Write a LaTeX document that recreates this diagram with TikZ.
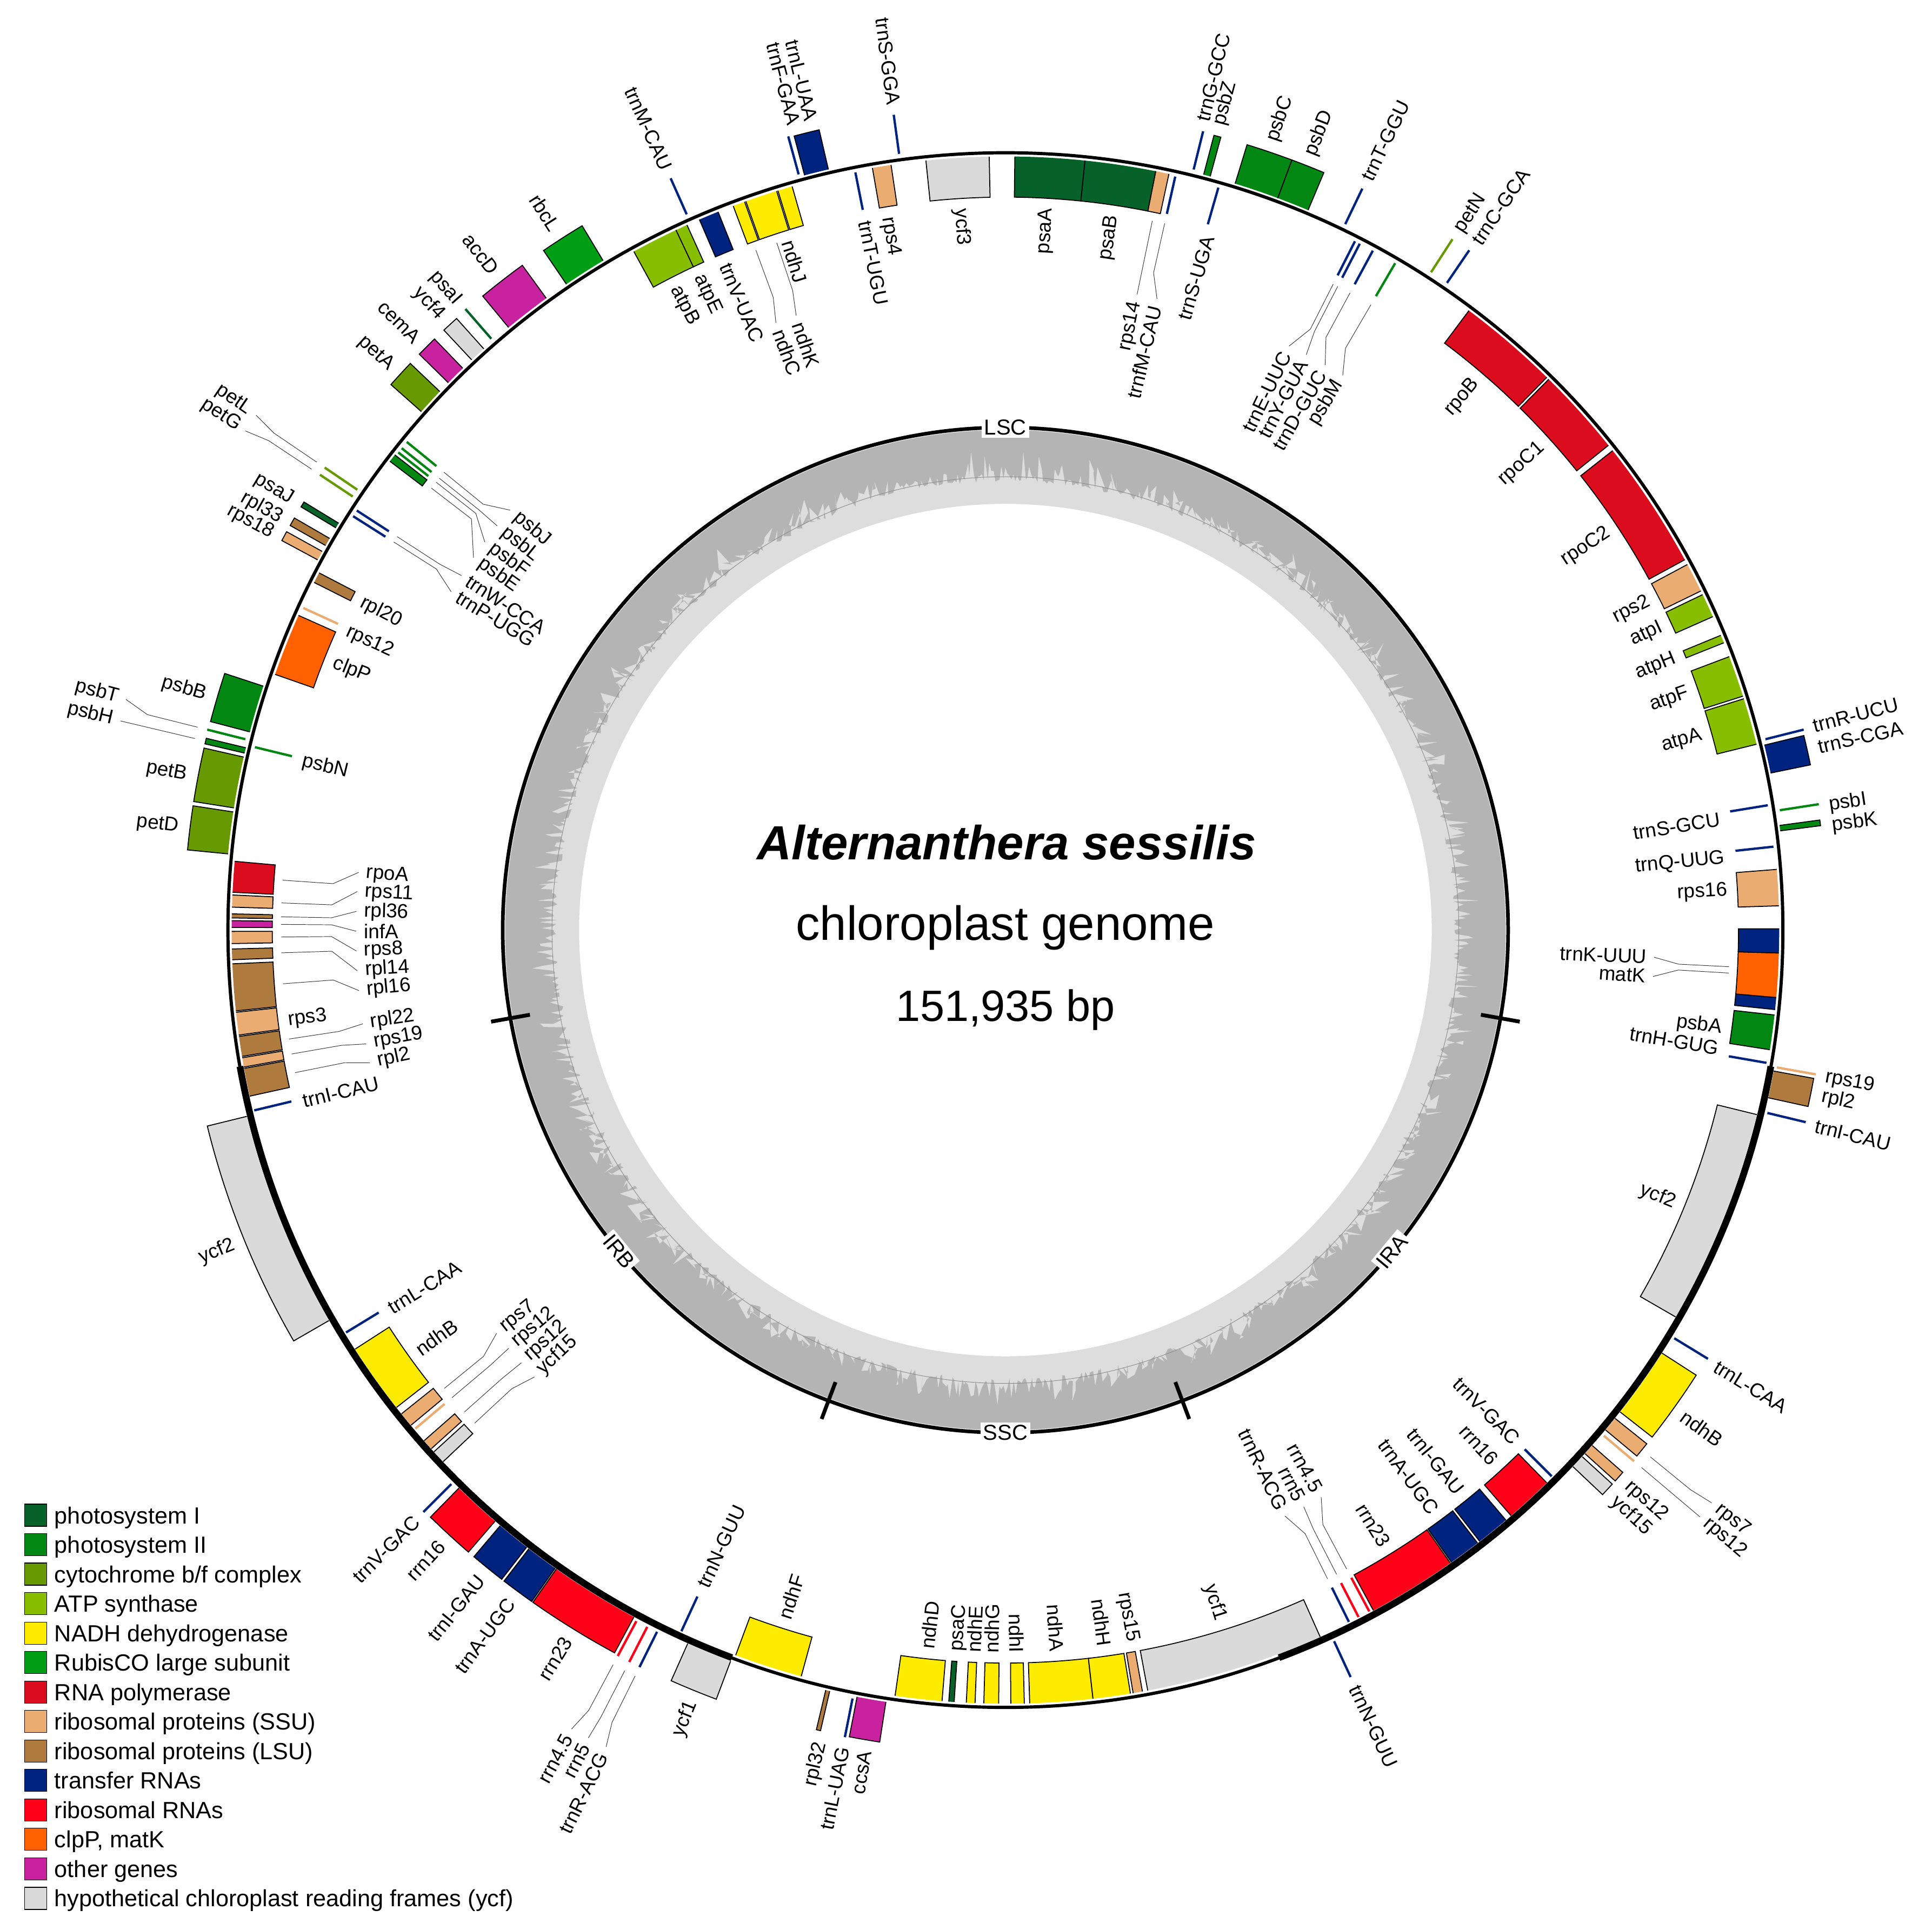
\documentclass[tikz,border=0pt]{standalone}
\usepackage{fontspec}
\setmainfont{Liberation Sans}
\usetikzlibrary{calc}

% gene class colours
\definecolor{psI}{RGB}{6,98,41}
\definecolor{psII}{RGB}{2,136,18}
\definecolor{cyt}{RGB}{103,153,0}
\definecolor{atp}{RGB}{135,190,0}
\definecolor{ndh}{RGB}{254,236,0}
\definecolor{rbc}{RGB}{0,158,20}
\definecolor{rpo}{RGB}{218,12,30}
\definecolor{rps}{RGB}{235,172,114}
\definecolor{rpl}{RGB}{174,122,62}
\definecolor{trn}{RGB}{0,35,128}
\definecolor{rrn}{RGB}{255,0,25}
\definecolor{clp}{RGB}{255,97,0}
\definecolor{oth}{RGB}{200,34,160}
\definecolor{ycf}{RGB}{218,218,218}
\definecolor{gcdark}{RGB}{180,180,180}
\definecolor{gclight}{RGB}{221,221,221}

% gene boxes outside / inside the circle (start angle, end angle, colour)
\newcommand{\boxo}[3]{%
  \fill[#3] (#1:634) arc[start angle=#1, end angle=#2, radius=634]
    -- (#2:667) arc[start angle=#2, end angle=#1, radius=667] -- cycle;
  \draw[gene edge] (#1:634) -- (#1:667) arc[start angle=#1, end angle=#2, radius=667] -- (#2:634);}
\newcommand{\boxi}[3]{%
  \fill[#3] (#1:628) arc[start angle=#1, end angle=#2, radius=628]
    -- (#2:595) arc[start angle=#2, end angle=#1, radius=595] -- cycle;
  \draw[gene edge] (#1:628) -- (#1:595) arc[start angle=#1, end angle=#2, radius=595] -- (#2:628);}
% short genes drawn as a single stroke
\newcommand{\lino}[2]{\draw[trna, #2] (#1:636) -- (#1:668);}
\newcommand{\lini}[2]{\draw[trna, #2] (#1:596) -- (#1:627);}
% radial gene label (angle, radius, text)
\newcommand{\glab}[3]{%
  \pgfmathtruncatemacro{\glR}{cos(#1)>=0}%
  \pgfmathtruncatemacro{\glO}{#2>631}%
  \ifnum\glR=1 \def\glrot{#1}\else\def\glrot{#1+180}\fi
  \ifnum\glR=\glO \def\glanc{west}\else\def\glanc{east}\fi
  \node[gene label, rotate=\glrot, anchor=\glanc] at (#1:#2) {#3};}
% labels with leader lines (gene angle, label angle, text)
\newcommand{\leadi}[3]{\draw[lead] (#1:588) -- (#1:547) -- (#2:527); \glab{#2}{521}{#3}}
\newcommand{\leado}[3]{\draw[lead] (#1:676) -- (#1:718) -- (#2:738); \glab{#2}{744}{#3}}
% legend row (y, colour, text)
\newcommand{\legrow}[3]{%
  \filldraw[fill=#2, legend box] (-796,#1-9) rectangle (-778,#1+9);
  \node[legend text, anchor=base west] at (-772,#1-6.8) {#3};}

\begin{document}
\begin{tikzpicture}[
    x=0.025cm, y=0.025cm,
    gene edge/.style = {draw=black, line width=0.55pt},
    trna/.style = {line width=1.35pt},
    gene label/.style = {font=\fontsize{11.5}{13}\selectfont, inner sep=0pt},
    lead/.style = {draw=black!80, line width=0.3pt},
    ring/.style = {draw=black, line width=1.85pt},
    ir arc/.style = {draw=black, line width=3.9pt},
    ring tick/.style = {draw=black, line width=2.2pt},
    ring label/.style = {fill=white, inner sep=1.5pt, font=\fontsize{12.5}{14}\selectfont},
    legend box/.style = {draw=black, line width=0.4pt},
    legend text/.style = {font=\fontsize{13.5}{15}\selectfont, inner sep=0pt}
]
    \useasboundingbox (-816,-811.3) rectangle (752,755);

    % GC content ring
    \fill[gclight, even odd rule] (0,0) circle[radius=406] (0,0) circle[radius=346];
    \pgfmathsetseed{11}
    \fill[gcdark, even odd rule] (0,0) circle[radius=406]
        plot[variable=\t, domain=0:359.75, samples=1440] (\t:{364+28*rnd*rnd}) -- cycle;
    \draw[black!45, line width=0.3pt] (0,0) circle[radius=368];
    \draw[line width=2.1pt] (0,0) circle[radius=408];
    \foreach \a in {-10.1,190.1,249.4,290.6}
        \draw[ring tick] (\a:392) -- (\a:424);
    \node[ring label] at (90:408) {LSC};
    \node[ring label, rotate=309.75] at (219.75:408) {IRB};
    \node[ring label] at (270:408) {SSC};
    \node[ring label, rotate=50.25] at (320.25:408) {IRA};

    % Genome circle and inverted repeats
    \draw[ring] (0,0) circle[radius=631];
    \draw[ir arc] (190.1:631) arc[start angle=190.1, end angle=249.4, radius=631];
    \draw[ir arc] (290.6:631) arc[start angle=290.6, end angle=349.9, radius=631];

    % LSC
    \lini{-9.9}{trn} \glab{-9.4}{587}{trnH-GUG}
    \boxi{-8.9}{-6.3}{psII} \glab{-7.8}{587}{psbA}
    \boxi{-5.9}{-5.0}{trn} \boxi{-5.0}{-1.7}{clp} \boxi{-1.7}{0.1}{trn}
    \leadi{-2.9}{-2.4}{trnK-UUU} \leadi{-3.4}{-4.1}{matK}
    \boxi{1.8}{4.5}{rps} \glab{3.1}{587}{rps16}
    \lini{6.2}{trn} \glab{5.7}{587}{trnQ-UUG}
    \boxo{7.3}{7.7}{psII} \glab{7.2}{676}{psbK}
    \lino{8.8}{psII} \glab{8.6}{676}{psbI}
    \lini{9.3}{trn} \glab{8.8}{587}{trnS-GCU}
    \boxo{11.6}{13.7}{trn} \glab{12.7}{676}{trnS-CGA}
    \lino{14.1}{trn} \glab{14.2}{676}{trnR-UCU}
    \boxi{13.9}{17.4}{atp} \glab{15.65}{587}{atpA}
    \boxi{17.6}{20.7}{atp} \glab{19.15}{587}{atpF}
    \boxi{21.8}{22.4}{atp} \glab{22.1}{587}{atpH}
    \boxi{23.9}{25.7}{atp} \glab{24.8}{587}{atpI}
    \boxi{26.0}{28.2}{rps} \glab{27.1}{587}{rps2}
    \boxi{28.6}{38.3}{rpo} \glab{33.45}{587}{rpoC2}
    \boxi{38.8}{45.4}{rpo} \glab{42.1}{587}{rpoC1}
    \boxi{45.6}{53.2}{rpo} \glab{49.4}{587}{rpoB}
    \lino{55.7}{trn} \glab{55.6}{676}{trnC-GCA}
    \lino{57.1}{cyt} \glab{57.0}{676}{petN}
    \lini{59.7}{psII} \leadi{59.7}{58.7}{psbM}
    \lini{61.6}{trn} \leadi{61.6}{60.5}{trnD-GUC}
    \lini{62.7}{trn} \leadi{62.7}{62.4}{trnY-GUA}
    \lini{63.1}{trn} \leadi{63.1}{64.1}{trnE-UUC}
    \lino{64.3}{trn} \glab{64.3}{676}{trnT-GGU}
    \boxo{67.2}{69.6}{psII} \glab{68.5}{676}{psbD}
    \boxo{69.6}{72.9}{psII} \glab{71.3}{676}{psbC}
    \lini{74.0}{trn} \glab{73.7}{587}{trnS-UGA}
    \boxo{74.8}{75.3}{psII} \glab{75.1}{676}{psbZ}
    \lino{76.1}{trn} \glab{76.3}{676}{trnG-GCC}
    \lini{77.3}{trn} \leadi{77.3}{76.5}{trnfM-CAU}
    \boxi{77.8}{78.8}{rps} \leadi{78.3}{78.3}{rps14}
    \boxi{78.8}{84.1}{psI} \glab{81.45}{587}{psaB}
    \boxi{84.1}{89.3}{psI} \glab{86.7}{587}{psaA}
    \boxi{91.2}{95.9}{ycf} \glab{93.55}{587}{ycf3}
    \lino{97.8}{trn} \glab{97.7}{676}{trnS-GGA}
    \boxi{98.5}{99.9}{rps} \glab{99.4}{587}{rps4}
    \lini{101.2}{trn} \glab{101.2}{587}{trnT-UGU}
    \boxo{103.1}{104.9}{trn} \glab{103.5}{676}{trnL-UAA}
    \lino{105.3}{trn} \glab{104.7}{676}{trnF-GAA}
    \boxi{106.0}{107.1}{ndh} \glab{107.5}{587}{ndhJ}
    \boxi{107.2}{109.6}{ndh} \leadi{108.4}{108.8}{ndhK}
    \boxi{109.7}{110.6}{ndh} \leadi{110.15}{110.7}{ndhC}
    \boxi{111.8}{113.3}{trn} \glab{112.8}{587}{trnV-UAC}
    \lino{114.0}{trn} \glab{114.0}{676}{trnM-CAU}
    \boxi{114.3}{115.2}{atp} \glab{115.1}{587}{atpE}
    \boxi{115.2}{118.7}{atp} \glab{117.2}{587}{atpB}
    \boxo{121.0}{124.2}{rbc} \glab{122.7}{676}{rbcL}
    \boxo{126.0}{129.5}{oth} \glab{127.8}{676}{accD}
    \lino{131.0}{psI} \glab{131.1}{676}{psaI}
    \boxo{131.9}{133.1}{ycf} \glab{132.6}{676}{ycf4}
    \boxo{134.0}{135.5}{oth} \glab{134.9}{676}{cemA}
    \boxo{136.4}{138.4}{cyt} \glab{137.5}{676}{petA}
    \lini{140.8}{psII} \leadi{140.8}{139.7}{psbJ}
    \lini{141.4}{psII} \leadi{141.4}{141.5}{psbL}
    \lini{141.8}{psII} \leadi{141.8}{143.3}{psbF}
    \boxi{142.1}{142.7}{psII} \leadi{142.4}{145.0}{psbE}
    \lino{145.8}{cyt} \leado{145.8}{145.5}{petL}
    \lino{146.4}{cyt} \leado{146.4}{146.7}{petG}
    \lini{147.1}{trn} \leadi{147.1}{146.9}{trnW-CCA}
    \lini{147.6}{trn} \leadi{147.6}{148.6}{trnP-UGG}
    \boxo{148.6}{149.0}{psI} \glab{148.9}{676}{psaJ}
    \boxo{149.9}{150.5}{rpl} \glab{150.4}{676}{rpl33}
    \boxo{151.0}{151.7}{rps} \glab{151.6}{676}{rps18}
    \boxi{152.5}{153.3}{rpl} \glab{153.0}{587}{rpl20}
    \lini{155.35}{rps} \glab{155.6}{587}{rps12}
    \boxi{156.0}{160.7}{clp} \glab{158.3}{587}{clpP}
    \boxo{161.8}{165.3}{psII} \glab{163.6}{676}{psbB}
    \lino{165.9}{psII} \leado{165.9}{165.3}{psbT}
    \boxo{166.5}{166.9}{psII} \leado{166.7}{166.7}{psbH}
    \lini{166.3}{psII} \glab{166.5}{587}{psbN}
    \boxo{167.2}{171.0}{cyt} \glab{169.3}{676}{petB}
    \boxo{171.3}{174.4}{cyt} \glab{172.9}{676}{petD}
    \boxi{174.9}{177.2}{rpo} \leadi{176.05}{174.9}{rpoA}
    \boxi{177.4}{178.3}{rps} \leadi{177.85}{176.6}{rps11}
    \boxi{178.8}{179.1}{rpl} \leadi{178.95}{178.35}{rpl36}
    \boxi{179.3}{179.8}{oth} \leadi{179.55}{180.1}{infA}
    \boxi{180.1}{181.0}{rps} \leadi{180.55}{181.85}{rps8}
    \boxi{181.4}{182.2}{rpl} \leadi{181.8}{183.6}{rpl14}
    \boxi{182.5}{186.0}{rpl} \leadi{184.25}{185.35}{rpl16}
    \boxi{186.1}{187.8}{rps} \glab{187.2}{587}{rps3}
    \boxi{187.9}{189.4}{rpl} \leadi{188.65}{188.3}{rpl22}
    \boxi{189.5}{190.2}{rps} \leadi{189.85}{190.1}{rps19}
    \boxi{190.3}{192.4}{rpl} \leadi{191.35}{191.8}{rpl2}

    % IRB
    \lini{193.5}{trn} \glab{193.7}{587}{trnI-CAU}
    \boxo{193.8}{210.0}{ycf} \glab{202.2}{676}{ycf2}
    \lini{211.4}{trn} \glab{211.6}{587}{trnL-CAA}
    \boxi{212.8}{218.1}{ndh} \glab{215.6}{587}{ndhB}
    \boxi{218.7}{219.8}{rps} \leadi{219.25}{218.4}{rps7}
    \lini{220.2}{rps} \leadi{220.2}{220.1}{rps12}
    \boxi{221.3}{222.1}{rps} \leadi{221.7}{221.8}{rps12}
    \boxi{222.4}{223.4}{ycf} \leadi{222.9}{223.5}{ycf15}
    \lino{225.0}{trn} \glab{225.0}{676}{trnV-GAC}
    \boxo{225.6}{229.2}{rrn} \glab{227.4}{676}{rrn16}
    \boxo{229.7}{232.2}{trn} \glab{231.0}{676}{trnI-GAU}
    \boxo{232.4}{234.8}{trn} \glab{233.6}{676}{trnA-UGC}
    \boxo{234.9}{241.6}{rrn} \glab{238.3}{676}{rrn23}
    \lino{241.9}{rrn} \leado{241.9}{241.5}{rrn4.5}
    \lino{242.8}{rrn} \leado{242.8}{242.7}{rrn5}
    \lino{243.6}{trn} \leado{243.6}{243.95}{trnR-ACG}
    \lini{245.2}{trn} \glab{245.25}{587}{trnN-GUU}
    \boxo{246.0}{249.4}{ycf} \glab{247.9}{676}{ycf1}

    % SSC
    \boxi{249.6}{254.7}{ndh} \glab{252.2}{587}{ndhF}
    \boxo{256.7}{257.0}{rpl} \glab{257.2}{676}{rpl32}
    \lino{258.75}{trn} \glab{258.75}{676}{trnL-UAG}
    \boxo{259.05}{261.2}{oth} \glab{260.3}{676}{ccsA}
    \boxi{261.8}{265.3}{ndh} \glab{263.8}{587}{ndhD}
    \boxi{265.8}{266.2}{psI} \glab{266.2}{587}{psaC}
    \boxi{267.1}{267.75}{ndh} \glab{267.5}{587}{ndhE}
    \boxi{268.4}{269.5}{ndh} \glab{268.9}{587}{ndhG}
    \boxi{270.4}{271.4}{ndh} \glab{270.9}{587}{ndhI}
    \boxi{271.8}{276.5}{ndh} \glab{274.1}{587}{ndhA}
    \boxi{276.5}{279.3}{ndh} \glab{277.9}{587}{ndhH}
    \boxi{279.5}{280.2}{rps} \glab{280.1}{587}{rps15}
    \boxi{280.6}{294.0}{ycf} \glab{287.3}{587}{ycf1}

    % IRA
    \lino{294.8}{trn} \glab{294.8}{676}{trnN-GUU}
    \lini{296.4}{trn} \leadi{296.4}{295.5}{trnR-ACG}
    \lini{297.2}{rrn} \leadi{297.2}{297.35}{rrn5}
    \lini{298.1}{rrn} \leadi{298.1}{299.1}{rrn4.5}
    \boxi{298.4}{305.1}{rrn} \glab{301.7}{587}{rrn23}
    \boxi{305.2}{307.6}{trn} \glab{306.4}{587}{trnA-UGC}
    \boxi{307.8}{310.3}{trn} \glab{309.0}{587}{trnI-GAU}
    \boxi{310.8}{314.4}{rrn} \glab{312.6}{587}{rrn16}
    \lini{315.0}{trn} \glab{315.0}{587}{trnV-GAC}
    \boxo{316.6}{317.6}{ycf} \glab{316.9}{676}{ycf15}
    \boxo{317.9}{318.7}{rps} \glab{318.3}{676}{rps12}
    \lino{319.8}{rps} \leado{319.8}{319.8}{rps12}
    \boxo{320.2}{321.3}{rps} \leado{320.75}{320.95}{rps7}
    \boxo{321.9}{327.2}{ndh} \glab{324.4}{676}{ndhB}
    \lino{328.6}{trn} \glab{328.5}{676}{trnL-CAA}
    \boxi{330.0}{346.2}{ycf} \glab{337.8}{587}{ycf2}
    \lino{346.5}{trn} \glab{346.4}{676}{trnI-CAU}
    \boxo{347.6}{349.6}{rpl} \glab{348.45}{676}{rpl2}
    \lino{349.9}{rps} \glab{349.8}{676}{rps19}

    % Title
    \node (species) [font=\fontsize{27.7}{30}\selectfont\bfseries\itshape, anchor=base] at (1,57) {Alternanthera sessilis};
    \node (kind) [font=\fontsize{27.7}{30}\selectfont, anchor=base] at (0,-8) {chloroplast genome};
    \node (size) [font=\fontsize{25.3}{28}\selectfont, anchor=base] at (0,-74) {151,935 bp};

    % Legend
    \legrow{-475.0}{psI}{photosystem I}
    \legrow{-498.9}{psII}{photosystem II}
    \legrow{-522.8}{cyt}{cytochrome b/f complex}
    \legrow{-546.8}{atp}{ATP synthase}
    \legrow{-570.7}{ndh}{NADH dehydrogenase}
    \legrow{-594.6}{rbc}{RubisCO large subunit}
    \legrow{-618.5}{rpo}{RNA polymerase}
    \legrow{-642.4}{rps}{ribosomal proteins (SSU)}
    \legrow{-666.4}{rpl}{ribosomal proteins (LSU)}
    \legrow{-690.3}{trn}{transfer RNAs}
    \legrow{-714.2}{rrn}{ribosomal RNAs}
    \legrow{-738.1}{clp}{clpP, matK}
    \legrow{-762.0}{oth}{other genes}
    \legrow{-786.0}{ycf}{hypothetical chloroplast reading frames (ycf)}
\end{tikzpicture}
\end{document}
